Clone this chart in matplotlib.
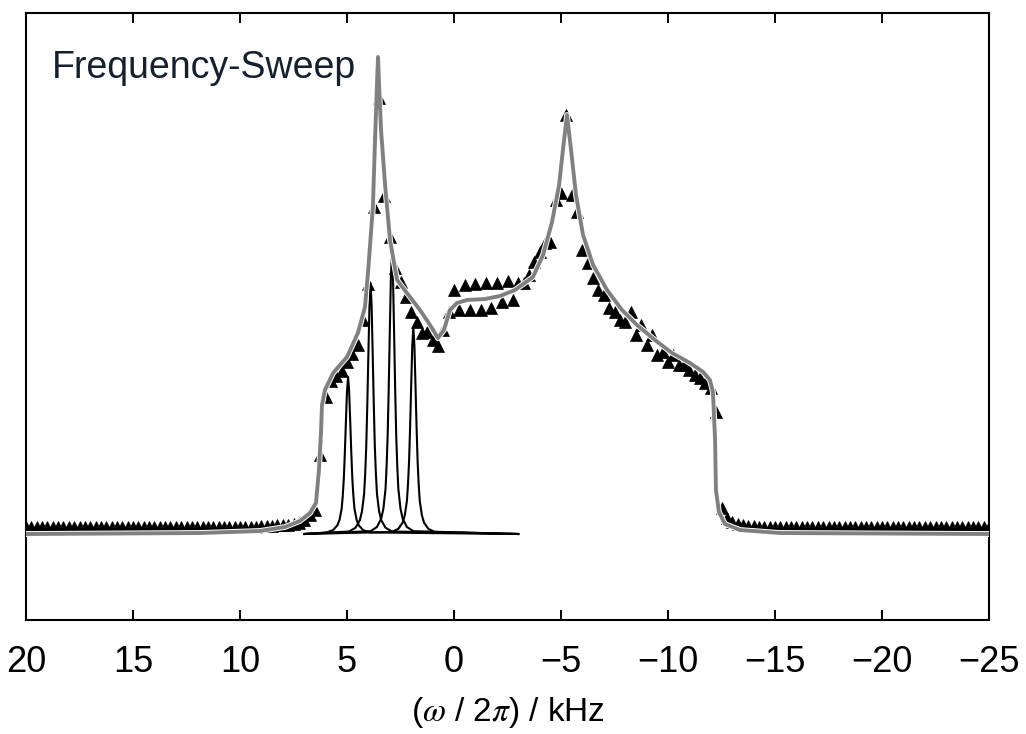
import numpy as np
import matplotlib
matplotlib.use("Agg")
import matplotlib.pyplot as plt
import matplotlib.patheffects as pe


# simulated (fit) spectrum, grey line: frequency in kHz, intensity in a.u.
fit_khz = [20.0, 11.87, 9.07, 7.9, 7.2, 6.73, 6.45, 6.31, 6.21, 6.17, 6.03, 5.65,
           5.0, 4.49, 4.16, 4.02, 3.79, 3.69, 3.6, 3.55, 3.5, 3.41, 3.22, 2.99,
           2.66, 2.2, 1.59, 1.12, 0.75, 0.47, 0.19, -0.14, -0.61, -1.45, -2.15,
           -2.85, -3.69, -4.16, -4.58, -4.91, -5.09, -5.28, -5.47, -5.7, -6.03,
           -6.5, -7.15, -7.85, -8.55, -9.39, -10.19, -11.03, -11.64, -11.96,
           -12.1, -12.2, -12.24, -12.38, -12.66, -13.36, -15.23, -25.0]
fit_int = [0, 1, 3, 7, 13, 21, 31, 64, 104, 129, 144, 161,
           177, 201, 227, 261, 327, 394, 449, 477, 449, 404, 349, 294,
           254, 241, 224, 209, 196, 204, 224, 231, 234, 235, 238,
           244, 257, 279, 312, 349, 384, 419, 384, 339, 299,
           269, 244, 224, 209, 194, 181, 171, 162, 154,
           142, 94, 44, 22, 10, 4, 1, 0]

# frequency-sweep experiment, triangles, one point every 0.25 kHz from 20 to -25
exp_int = [7, 7, 7, 7, 7, 7, 7, 7, 7, 7, 7, 7, 7, 7, 7, 7, 7, 7, 7, 7,
           7, 7, 7, 7, 7, 7, 7, 7, 7, 7, 7, 7, 7, 7, 7, 7, 7, 7, 7, 7,
           7, 7, 7.5, 7.5, 8, 8, 8.5, 9,
           # 8.0 ... 0.0 kHz
           9, 9.5, 10, 11, 14, 19, 24, 79, 137, 153, 158, 163, 172, 180, 189,
           214, 250, 327, 436, 338, 297, 266, 252, 237, 222, 212, 201, 202,
           194, 188, 204, 222, 244,
           # -0.25 ... -14.0 kHz
           224, 249, 224, 250, 224, 251, 226, 251, 232, 253, 234, 251, 251,
           259, 272, 282, 291, 292, 334, 341, 419, 339, 322, 284, 271, 256,
           244, 239, 226, 222, 214, 212, 222, 199, 209, 189, 199, 179, 182,
           172, 179, 169, 169, 164, 159, 156, 151, 146, 122, 26, 16, 12, 10,
           9, 8.5, 8,
           # -14.25 ... -25 kHz
           7, 7, 7, 7, 7, 7, 7, 7, 7, 7, 7, 7, 7, 7, 7, 7, 7, 7, 7, 7, 7, 7,
           7, 7, 7, 7, 7, 7, 7, 7, 7, 7, 7, 7, 7, 7, 7, 7, 7, 7, 7, 7, 7, 7]
exp_khz = np.linspace(20, -25, len(exp_int))

# individual sub-spectra (thin black lines)
comp_centers = [4.95, 3.9, 2.9, 1.9]
comp_heights = [157, 251, 281, 207]
comp_range = [7.0, -3.0]
# common line shape: offset from centre (kHz), fraction of height
shape_offsets = [1.0, 0.7, 0.5, 0.4, 0.3, 0.25, 0.2, 0.15, 0.1, 0.05, 0.0,
                 -0.05, -0.1, -0.15, -0.2, -0.25, -0.3, -0.4, -0.5, -0.7, -1.0]
shape_frac = [0.01, 0.025, 0.055, 0.09, 0.16, 0.24, 0.35, 0.52, 0.72, 0.91, 1.0,
              0.91, 0.72, 0.52, 0.35, 0.24, 0.16, 0.09, 0.055, 0.025, 0.01]

xticks = [20, 15, 10, 5, 0, -5, -10, -15, -20, -25]


def make_plot():
    plt.rcParams['font.family'] = ['Liberation Sans', 'DejaVu Sans']
    plt.rcParams['mathtext.fontset'] = 'stix'
    fig = plt.figure(figsize=(10.26, 7.34), dpi=100)
    ax = fig.add_axes([26/1026, 1 - 620/734, 963/1026, 607/734])

    for c, h in zip(comp_centers, comp_heights):
        xs = [comp_range[0]] + [c + o for o in shape_offsets] + [comp_range[1]]
        ys = [0] + [h * f for f in shape_frac] + [0]
        ax.plot(xs, ys, color='black', lw=1.5, zorder=2)

    ax.plot(exp_khz, exp_int, ls='none', marker='^', ms=8, color='black',
            markeredgewidth=0.5, zorder=3)

    ax.plot(fit_khz, fit_int, color='0.5', lw=2.8, zorder=4,
            path_effects=[pe.Stroke(linewidth=4.2, foreground='white'), pe.Normal()])

    ax.text(0.027, 0.893, 'Frequency-Sweep', transform=ax.transAxes,
            fontsize=27, color='#15202e', ha='left', va='baseline')

    ax.set_xlim(20, -25)
    ax.set_ylim(-86, 521)
    ax.set_xticks(xticks)
    ax.set_xticklabels([str(t).replace('-', '\u2212') for t in xticks])
    ax.set_yticks([])
    ax.tick_params(axis='x', direction='in', length=7.2, width=1.4, top=True,
                   labelsize=26, pad=18, colors='black')
    for s in ax.spines.values():
        s.set_linewidth(1.5)
    ax.set_xlabel(r'($\omega$ / 2$\pi$) / kHz', fontsize=24, labelpad=11)

    fig.savefig('out.png', dpi=100)


def main():
    make_plot()


if __name__ == '__main__':
    main()
